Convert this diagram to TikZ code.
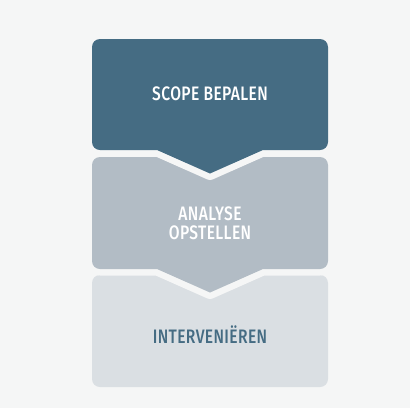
\documentclass[tikz,border=0pt]{standalone}
\usepackage{fontspec}
\setmainfont{Fira Sans}[UprightFont={* Medium}, FakeStretch=0.8, LetterSpace=2]

\definecolor{achtergrond}{RGB}{245,246,246}
\definecolor{donker}{RGB}{69,108,131}
\definecolor{midden}{RGB}{178,188,197}
\definecolor{licht}{RGB}{218,223,227}

\begin{document}
\begin{tikzpicture}[x=1pt, y=-1pt,
		halo/.style={draw=achtergrond, line width=13pt, line join=round},
		tekst/.style={font=\fontsize{19.5}{18.6}\selectfont, align=center}]
	\fill[achtergrond] (0,0) rectangle (410,408);
	% onderste blok
	\fill[licht, rounded corners=8pt] (92,275) rectangle (328,387);
	% blokken met punt naar beneden
	\foreach \boven/\onder/\kleur in {157/269/midden, 39/150/donker}
	{
		\path[halo] (210,\onder+23.5) -- (157,\onder) [rounded corners=8pt] -- (92,\onder) -- (92,\boven) -- (328,\boven) -- (328,\onder) [sharp corners] -- (263,\onder) -- cycle;
		\fill[\kleur] (210,\onder+23.5) -- (157,\onder) [rounded corners=8pt] -- (92,\onder) -- (92,\boven) -- (328,\boven) -- (328,\onder) [sharp corners] -- (263,\onder) -- cycle;
	}
	\node[tekst, text=white, anchor=base] (scope) at (210,100.7) {SCOPE BEPALEN};
	\node[tekst, text=white] (analyse) at (210,223.5) {ANALYSE\\OPSTELLEN};
	\node[tekst, text=donker, anchor=base] (interveni) at (210,343.3) {INTERVENIËREN};
\end{tikzpicture}
\end{document}
